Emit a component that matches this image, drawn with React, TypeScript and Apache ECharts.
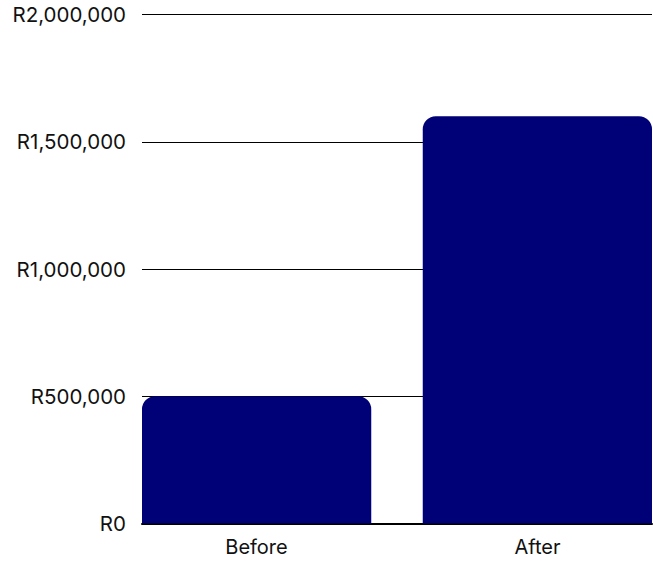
import React, { useEffect, useRef } from "react";
import * as echarts from "echarts";

const categories = ["Before", "After"];
const values = [500000, 1600000];
const yTicks = [0, 500000, 1000000, 1500000, 2000000];

export default function App() {
  const ref = useRef<HTMLDivElement>(null);
  useEffect(() => {
    if (!ref.current) return;
    const chart = echarts.init(ref.current, null, { renderer: "svg" });
    const font = "Inter";
    const series = categories.map((c, i) => ({
      type: "bar",
      name: c,
      data: categories.map((_, j) => (j === i ? values[j] : "-")),
      barWidth: 229.5,
      barGap: "-88.67%",
      itemStyle: { color: "#000077", borderRadius: [13, 13, 0, 0] },
    }));
    chart.setOption({
      animation: false,
      grid: { left: 142, right: 1, top: 14.5, bottom: 38.5 },
      xAxis: {
        type: "category",
        data: categories,
        axisLine: { show: true, lineStyle: { color: "#000", width: 2 } },
        axisTick: { show: false },
        axisLabel: {
          margin: 13,
          color: "#111",
          fontFamily: font,
          fontSize: 20,
          formatter: (v: string) => (v === categories[0] ? `{a|${v}}` : `{b|${v}}`),
          rich: {
            a: { padding: [0, 26, 0, 0], fontFamily: font, fontSize: 20, color: "#111" },
            b: { padding: [0, 0, 0, 26], fontFamily: font, fontSize: 20, color: "#111" },
          },
        },
      },
      yAxis: {
        type: "value",
        min: yTicks[0],
        max: yTicks[yTicks.length - 1],
        interval: yTicks[1] - yTicks[0],
        axisLine: { show: false },
        axisTick: { show: false },
        splitLine: { lineStyle: { color: "#000", width: 1 } },
        axisLabel: {
          margin: 16,
          color: "#111",
          fontFamily: font,
          fontSize: 20.5,
          formatter: (v: number) => "R" + v.toLocaleString("en-US"),
        },
      },
      series,
    });
    return () => chart.dispose();
  }, []);
  return (
    <div
      ref={ref}
      style={{ position: "absolute", left: 0, top: 0, width: 653, height: 562, background: "#fff" }}
    />
  );
}
